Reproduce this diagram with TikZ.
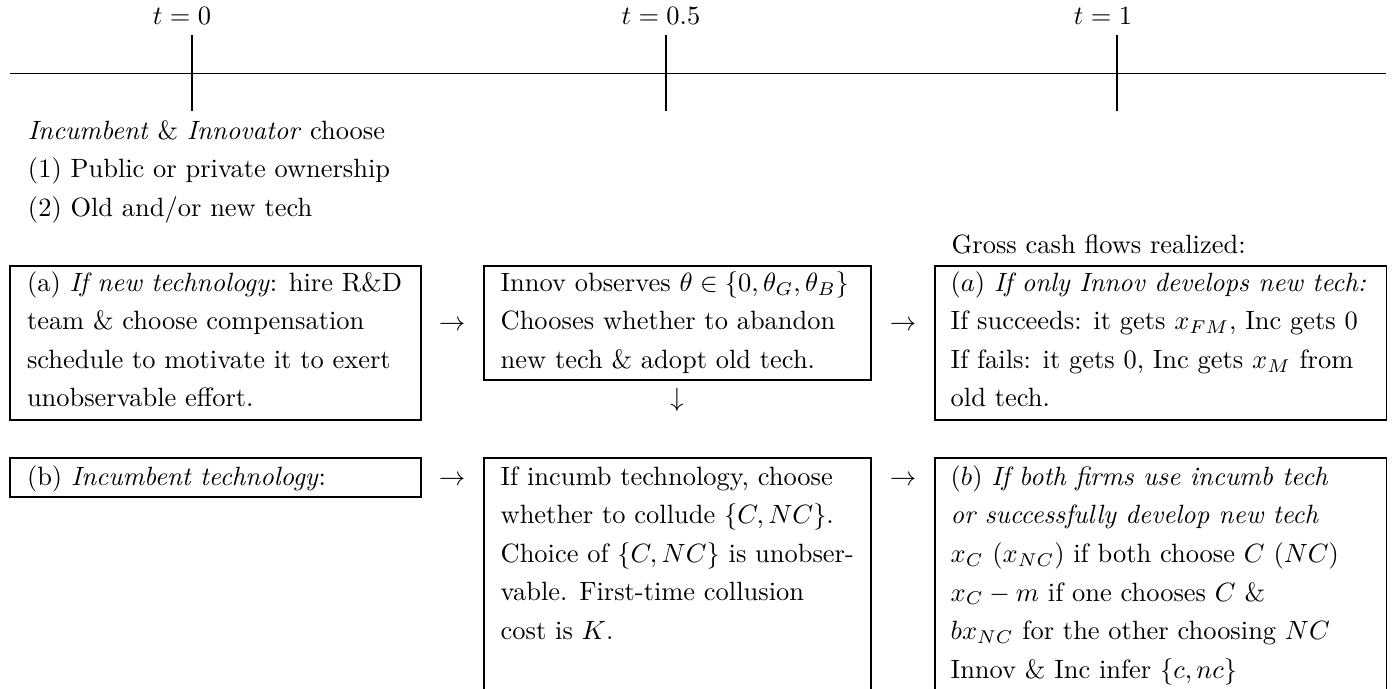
\documentclass[tikz,border=0pt]{standalone}
\newcommand\bodyfont{\fontsize{10}{14.6}\selectfont}
\tikzset{
  txt/.style={inner sep=0pt, outer sep=0pt, align=left, anchor=base west, font=\bodyfont},
  frame/.style={draw, line width=0.4pt},
  tlabel/.style={inner sep=0pt, anchor=base, font=\bodyfont},
  glyph/.style={inner sep=0pt, anchor=base, font=\bodyfont},
  axis/.style={draw, line width=0.45pt},
}
\begin{document}
% 1 unit = 1 pixel of the 1400x689 reference; y grows downwards.
% Multi-line nodes are placed by the baseline of their LAST line.
\begin{tikzpicture}[x=0.3782pt, y=-0.3782pt]
\useasboundingbox (0,0) rectangle (1400,689);
\clip (0,0) rectangle (1400,689);
% ---------------- timeline
\coordinate (L) at (10,73.4);
\coordinate (R) at (1386,73.4);
\draw[axis] (L) -- (R);
\coordinate (t0a) at (192,35);  \coordinate (t0b) at (192,111);
\coordinate (t1a) at (666,35);  \coordinate (t1b) at (666,111);
\coordinate (t2a) at (1117,35); \coordinate (t2b) at (1117,111);
\draw[axis] (t0a) -- (t0b);
\draw[axis] (t1a) -- (t1b);
\draw[axis] (t2a) -- (t2b);
\node[tlabel] (lab0) at (182,24) {$t=0$};
\node[tlabel] (lab1) at (661,24) {$t=0.5$};
\node[tlabel] (lab2) at (1103,24) {$t=1$};
% ---------------- t = 0 text
\node[txt] (choose) at (28,216.3) {\textit{Incumbent} \& \textit{Innovator} choose\\
(1) Public or private ownership\\
(2) Old and/or new tech};
% ---------------- boxes
\draw[frame] (10,266) rectangle (421,420);
\draw[frame] (484,266) rectangle (871,380);
\draw[frame] (935,266) rectangle (1386.5,420);
\draw[frame] (10,458) rectangle (421,497);
\draw[frame] (484,458) rectangle (871,720);
\draw[frame] (935,458) rectangle (1386.5,720);
% ---------------- box texts
\node[txt] (boxA) at (27,406.9) {(a) \textit{If new technology}: hire R\&D\\
team \& choose compensation\\
schedule to motivate it to exert\\
unobservable effort.};
\node[txt] (boxB) at (500.7,368.3) {Innov observes $\theta\in\{0,\theta_G,\theta_B\}$\\
Chooses whether to abandon\\
new tech \& adopt old tech.};
\node[txt] (gross) at (951.7,253) {Gross cash flows realized:};
\node[txt] (boxC) at (950.7,406.9) {$(a)$ \textit{If only Innov develops new tech:}\\
If succeeds: it gets $x_{FM}$, Inc gets 0\\
If fails: it gets 0, Inc gets $x_M$ from\\
old tech.};
\node[txt] (boxD) at (27,485) {(b) \textit{Incumbent technology}:};
\node[txt] (boxE) at (500.7,639.5) {If incumb technology, choose\\
whether to collude $\{C,NC\}$.\\
Choice of $\{C,NC\}$ is unobser-\\
vable. First-time collusion\\
cost is $K$.};
\node[txt] (boxF) at (950.7,678.2) {$(b)$ \textit{If both firms use incumb tech}\\
\textit{or successfully develop new tech}\\
$x_C$ ($x_{NC}$) if both choose $C$ ($NC$)\\
$x_C-m$ if one chooses $C$ \&\\
$bx_{NC}$ for the other choosing $NC$\\
Innov \& Inc infer $\{c,nc\}$};
% ---------------- arrow glyphs
\node[glyph] (arA) at (452,330) {$\rightarrow$};
\node[glyph] (arB) at (903,330) {$\rightarrow$};
\node[glyph] (arD) at (452,485) {$\rightarrow$};
\node[glyph] (arE) at (903,485) {$\rightarrow$};
\node[glyph, anchor=center] (down) at (677,400) {$\downarrow$};
\end{tikzpicture}
\end{document}
